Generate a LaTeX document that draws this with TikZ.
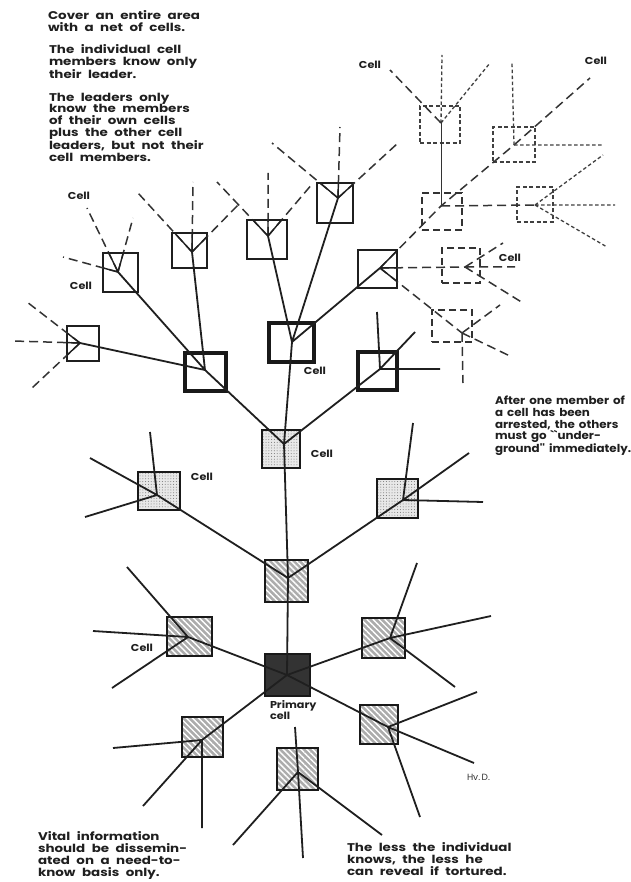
\documentclass[tikz,border=0pt]{standalone}
\usepackage{fontspec}
\setmainfont{Poppins}
\newfontfamily\widefont{Poppins}[FakeStretch=1.2]
\newfontfamily\midfont{Poppins}[FakeStretch=1.08]
\newfontfamily\lblfont{Poppins}[FakeStretch=1.12]
\usetikzlibrary{patterns.meta}
\newcommand\widespaces{\spaceskip=6.5pt plus 1pt minus 0.5pt\relax}
\newcommand\midspaces{\spaceskip=4pt plus 1pt minus 0.5pt\relax}
\begin{document}
\begin{tikzpicture}[x=1pt,y=-1pt,
  every node/.style={inner sep=0pt,outer sep=0pt},
  conn/.style={draw=black!88,line width=1.8pt},
  inner/.style={draw=black!88,line width=1.4pt},
  dashln/.style={draw=black!80,line width=1.5pt,dash pattern=on 9pt off 5pt},
  dotln/.style={draw=black!75,line width=1.3pt,dash pattern=on 3.5pt off 2.5pt},
  thinbox/.style={rectangle,draw=black!88,line width=1.7pt,fill=white},
  thickbox/.style={rectangle,draw=black!90,line width=3.4pt,fill=white},
  stipbox/.style={rectangle,fill=gray!18,
     postaction={pattern color=black!55,pattern={Dots[distance=2.8pt,radius=0.5pt]}},
     postaction={draw=black!90,line width=2.8pt}},
  hatchbox/.style={rectangle,fill=gray!65,
     postaction={pattern color=white,pattern={Lines[angle=-45,distance=4.2pt,line width=1.4pt]}},
     postaction={draw=black!90,line width=2.6pt}},
  primbox/.style={rectangle,draw=black!90,line width=1.5pt,fill=black!80},
  dbox/.style={rectangle,draw=black!80,line width=1.5pt,dash pattern=on 7pt off 4pt},
  dotbox/.style={rectangle,draw=black!75,line width=1.4pt,dash pattern=on 4pt off 2.5pt},
  txt/.style={font=\widefont\fontsize{11.2}{11.7}\selectfont\bfseries\widespaces,align=left,text=black!88},
  lbl/.style={font=\lblfont\fontsize{10}{11}\selectfont\bfseries,text=black!88},
]
\useasboundingbox (0,0) rectangle (630,882);
\fill[white] (0,0) rectangle (630,882);

% hubs
\coordinate (hP) at (287,675);
\coordinate (hH1) at (288,578);
\coordinate (hH2) at (188,637);
\coordinate (hH3) at (390,638);
\coordinate (hH4) at (202,740);
\coordinate (hH5) at (298,772);
\coordinate (hH6) at (388,727);
\coordinate (hS1) at (284,444);
\coordinate (hS2) at (157,495);
\coordinate (hS3) at (403,500);
\coordinate (hB1) at (205,370);
\coordinate (hB2) at (292,342);
\coordinate (hB3) at (380,369);
\coordinate (hA0) at (80,343);
\coordinate (hA1) at (118,272);
\coordinate (hA2) at (192,252);
\coordinate (hA3) at (268,236);
\coordinate (hA4) at (338,198);
\coordinate (hA5) at (380,268);
\coordinate (hD1) at (441,123);
\coordinate (hD2) at (441,206);
\coordinate (hD3) at (514,145);
\coordinate (hD6) at (535,205);
\coordinate (hD4) at (465,267);
\coordinate (hD5) at (462,333);

% boxes
\node[primbox,minimum width=45pt,minimum height=42pt] (P) at (287.5,675) {};
\node[hatchbox,minimum width=43pt,minimum height=42pt] (H1) at (286.5,581) {};
\node[hatchbox,minimum width=45pt,minimum height=39pt] (H2) at (189.5,636.5) {};
\node[hatchbox,minimum width=43pt,minimum height=40pt] (H3) at (383.5,638) {};
\node[hatchbox,minimum width=41pt,minimum height=40pt] (H4) at (202.5,737) {};
\node[hatchbox,minimum width=41pt,minimum height=42pt] (H5) at (297.5,769) {};
\node[hatchbox,minimum width=38pt,minimum height=39pt] (H6) at (379,724.5) {};
\node[stipbox,minimum width=38pt,minimum height=38pt] (S1) at (281,449) {};
\node[stipbox,minimum width=42pt,minimum height=38pt] (S2) at (159,491) {};
\node[stipbox,minimum width=41pt,minimum height=39pt] (S3) at (397.5,498.5) {};
\node[thickbox,minimum width=41pt,minimum height=38pt] (B1) at (205.5,372) {};
\node[thickbox,minimum width=45pt,minimum height=39pt] (B2) at (291.5,342.5) {};
\node[thickbox,minimum width=39pt,minimum height=38pt] (B3) at (377.5,371) {};
\node[thinbox,minimum width=32pt,minimum height=35pt] (A0) at (83,343.5) {};
\node[thinbox,minimum width=35pt,minimum height=39pt] (A1) at (120.5,272.5) {};
\node[thinbox,minimum width=35pt,minimum height=35pt] (A2) at (189.5,250.5) {};
\node[thinbox,minimum width=40pt,minimum height=39pt] (A3) at (267,239.5) {};
\node[thinbox,minimum width=36pt,minimum height=40pt] (A4) at (335,203) {};
\node[thinbox,minimum width=39pt,minimum height=38pt] (A5) at (377.5,269) {};
\node[dotbox,minimum width=40pt,minimum height=37pt] (D1) at (440,124.5) {};
\node[dbox,minimum width=40pt,minimum height=37pt] (D2) at (442,211.5) {};
\node[dotbox,minimum width=42pt,minimum height=35pt] (D3) at (514,144.5) {};
\node[dotbox,minimum width=36pt,minimum height=35pt] (D6) at (535,204.5) {};
\node[dbox,minimum width=38pt,minimum height=35pt] (D4) at (461,265.5) {};
\node[dbox,minimum width=40pt,minimum height=32pt] (D5) at (452,326) {};

% solid hub-to-hub connectors
\draw[conn] (hP) -- (hH1) (hP) -- (hH2) (hP) -- (hH3) (hP) -- (hH4) (hP) -- (hH6);
\draw[conn] (hH1) -- (hS1) (hH1) -- (hS2) (hH1) -- (hS3);
\draw[conn] (hS1) -- (hB1) (hS1) -- (hB2) (hS1) -- (hB3);
\draw[conn] (hB1) -- (hA0) (hB1) -- (hA1) (hB1) -- (hA2);
\draw[conn] (hB2) -- (hA3) (hB2) -- (hA4) (hB2) -- (hA5);

% solid spokes
\draw[conn] (hH2) -- (127,567) coordinate (h2a) (hH2) -- (93,631) coordinate (h2b) (hH2) -- (112,688) coordinate (h2c);
\draw[conn] (hH3) -- (417,563) coordinate (h3a) (hH3) -- (491,616) coordinate (h3b) (hH3) -- (455,687) coordinate (h3c);
\draw[conn] (hH4) -- (113,748) coordinate (h4a) (hH4) -- (143,806) coordinate (h4b) (hH4) -- (202,828) coordinate (h4c);
\draw[conn] (hH5) -- (295,727) coordinate (h5a) (hH5) -- (303,858) coordinate (h5b) (hH5) -- (233,845) coordinate (h5c) (hH5) -- (382,835) coordinate (h5d);
\draw[conn] (hH6) -- (477,692) coordinate (h6a) (hH6) -- (474,763) coordinate (h6b) (hH6) -- (420,817) coordinate (h6c);
\draw[conn] (hS2) -- (150,432) coordinate (s2a) (hS2) -- (90,458) coordinate (s2b) (hS2) -- (85,517) coordinate (s2c);
\draw[conn] (hS3) -- (413,423) coordinate (s3a) (hS3) -- (469,453) coordinate (s3b) (hS3) -- (483,502) coordinate (s3c);
\draw[conn] (hB3) -- (377,312) coordinate (b3a) (hB3) -- (415,332) coordinate (b3b) (hB3) -- (440,369) coordinate (b3c);

% dashed spokes of the thin cells
\draw[dashln] (hA0) -- (27,302) coordinate (a0a) (hA0) -- (13,341) coordinate (a0b) (hA0) -- (32,388) coordinate (a0c);
\draw[dashln] (hA1) -- (87,208) coordinate (a1a) (hA1) -- (133,218) coordinate (a1b) (hA1) -- (63,257) coordinate (a1c);
\draw[dashln] (hA2) -- (138,193) coordinate (a2a) (hA2) -- (193,182) coordinate (a2b) (hA2) -- (240,203) coordinate (a2c);
\draw[dashln] (hA3) -- (217,182) coordinate (a3a) (hA3) -- (268,173) coordinate (a3b) (hA3) -- (313,183) coordinate (a3c);
\draw[dashln] (hA4) -- (272,143) coordinate (a4a) (hA4) -- (340,127) coordinate (a4b) (hA4) -- (398,143) coordinate (a4c);
\draw[dashln] (hA5) -- (hD2) -- (hD3) -- (590,78) coordinate (a5a);
\draw[dashln] (hA5) -- (hD4) (hA5) -- (hD5);
% solid parts inside the thin cells
\begin{scope}\clip (A0.north west) rectangle (A0.south east);
\draw[inner] (hA0) -- (a0a) (hA0) -- (a0b) (hA0) -- (a0c);\end{scope}
\begin{scope}\clip (A1.north west) rectangle (A1.south east);
\draw[inner] (hA1) -- (a1a) (hA1) -- (a1b) (hA1) -- (a1c);\end{scope}
\begin{scope}\clip (A2.north west) rectangle (A2.south east);
\draw[inner] (hA2) -- (a2a) (hA2) -- (a2b) (hA2) -- (a2c);\end{scope}
\begin{scope}\clip (A3.north west) rectangle (A3.south east);
\draw[inner] (hA3) -- (a3a) (hA3) -- (a3b) (hA3) -- (a3c);\end{scope}
\begin{scope}\clip (A4.north west) rectangle (A4.south east);
\draw[inner] (hA4) -- (a4a) (hA4) -- (a4b) (hA4) -- (a4c);\end{scope}
\begin{scope}\clip (A5.north west) rectangle (A5.south east);
\draw[inner] (hA5) -- (hD2) (hA5) -- (hD4) (hA5) -- (hD5);\end{scope}

% arrested cells (dashed)
\draw[dotln] (hD1) -- (442,55) coordinate (d1a) (hD1) -- (490,63) coordinate (d1c);
\draw[dashln] (hD1) -- (390,70) coordinate (d1b);
\draw[draw=black!80,line width=1pt] (hD1) -- (hD2);
\draw[dashln] (hD2) -- (hD6);
\draw[dotln] (hD3) -- (512,63) coordinate (d3a) (hD3) -- (603,145) coordinate (d3b);
\draw[dotln] (hD6) -- (603,155) coordinate (d6a) (hD6) -- (615,205) coordinate (d6b) (hD6) -- (607,247) coordinate (d6c);
\draw[dashln] (hD4) -- (503,243) coordinate (d4a) (hD4) -- (515,267) coordinate (d4b) (hD4) -- (523,303) coordinate (d4c);
\draw[dashln] (hD5) -- (500,305) coordinate (d5a) (hD5) -- (512,357) coordinate (d5b) (hD5) -- (463,383) coordinate (d5c);

% cell labels
\node[lbl] (c1) at (79,196) {Cell};
\node[lbl] (c2) at (81,286) {Cell};
\node[lbl] (c3) at (370,65) {Cell};
\node[lbl] (c4) at (596,61) {Cell};
\node[lbl] (c5) at (510,258) {Cell};
\node[lbl] (c6) at (315,371) {Cell};
\node[lbl] (c7) at (322,454) {Cell};
\node[lbl] (c8) at (202,477) {Cell};
\node[lbl] (c9) at (142,648) {Cell};
\node[lbl,anchor=north west,align=left] (cP) at (270,700) {Primary\\cell};
\node[font=\fontsize{9}{10}\selectfont,text=black!80,anchor=west] (sig) at (467,777) {Hv.\,D.};

% texts
\node[txt,anchor=north west] (t1) at (48,11) {Cover an entire area\\with a net of cells.};
\node[txt,anchor=north west] (t2) at (49,45) {The individual cell\\members know only\\their leader.};
\node[txt,anchor=north west] (t3) at (49,93) {The leaders only\\know the members\\of their own cells\\plus the other cell\\leaders, but not their\\cell members.};
\node[txt,anchor=north west,font=\midfont\fontsize{11}{11.7}\selectfont\bfseries\midspaces] (t4) at (495,396) {After one member of\\a cell has been\\arrested, the others\\must go ``under-\\ground'' immediately.};
\node[txt,anchor=north west] (t5) at (38,832) {Vital information\\should be dissemin-\\ated on a need-to-\\know basis only.};
\node[txt,anchor=north west] (t6) at (347,843) {The less the individual\\knows, the less he\\can reveal if tortured.};
\end{tikzpicture}
\end{document}
